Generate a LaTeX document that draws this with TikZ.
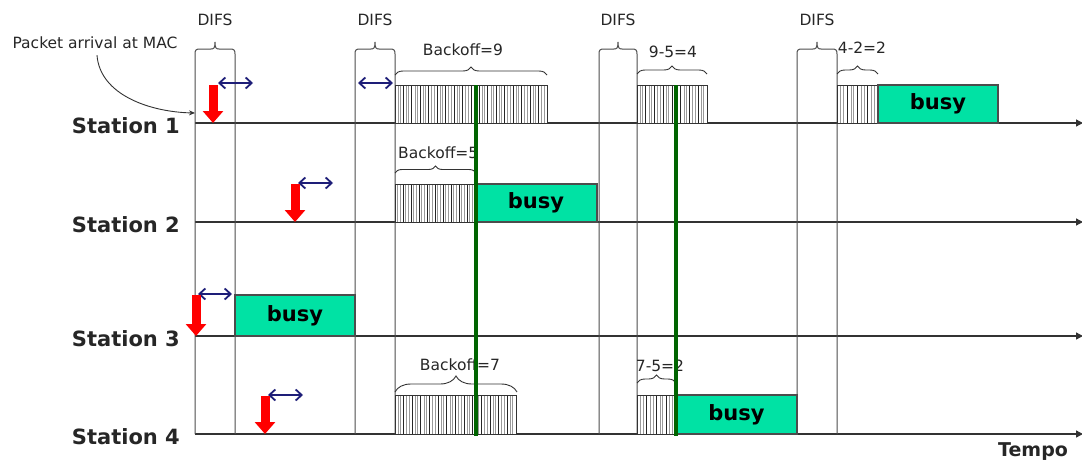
\documentclass[tikz,border=0pt]{standalone}
\usepackage{fontspec}
\setmainfont{DejaVu Sans}
\usetikzlibrary{arrows.meta,decorations.pathreplacing}

\definecolor{busyfill}{RGB}{0,226,164}
\definecolor{slotline}{RGB}{0,100,0}
\definecolor{difsblue}{RGB}{30,30,120}
\definecolor{arrivalred}{RGB}{255,0,0}

% backoff slots: x0, x1, y0, y1, number of slots
\newcommand\backoffslots[5]{%
  \fill[white] (#1,#3) rectangle (#2,#4);
  \pgfmathsetmacro\slotw{(#2-#1)/#5}
  \foreach \k in {1,...,#5}{
    \foreach \f in {0.18,0.32,0.68,0.82}{
      \draw[black!40, line width=0.8] ({#1+(\k-1+\f)*\slotw},#3) -- ({#1+(\k-1+\f)*\slotw},#4);
    }
    \draw[black!85, line width=1] ({#1+(\k-1)*\slotw},#3) -- ({#1+(\k-1)*\slotw},#4);
    \draw[black!85, line width=1] ({#1+(\k-0.5)*\slotw},#3) -- ({#1+(\k-0.5)*\slotw},#4);
  }
  \draw[black!80, line width=1] (#1,#3) rectangle (#2,#4);
}

% flat DIFS bracket over the interval [#1,#2], joined to the vertical guides
\newcommand\difsbracket[2]{%
  \pgfmathsetmacro\xm{(#1+#2)/2}
  \draw[grid] (#1,434) -- (#1,54) .. controls (#1,50) and (#1+1,49) .. (#1+5,49)
    -- (\xm-4,49) .. controls (\xm-1,49) and (\xm,48) .. (\xm,42)
    .. controls (\xm,48) and (\xm+1,49) .. (\xm+4,49)
    -- (#2-5,49) .. controls (#2-1,49) and (#2,50) .. (#2,54) -- (#2,434);
}

\begin{document}
\begin{tikzpicture}[x=1pt,y=-1pt,
  small/.style={font=\fontsize{15.5}{18}\selectfont, text=black!85, inner sep=0pt},
  stlabel/.style={font=\bfseries\fontsize{21}{25}\selectfont, text=black!85, inner sep=0pt},
  busy/.style={draw=black!70, line width=1.2pt, fill=busyfill, inner sep=0pt, outer sep=0pt,
    font=\bfseries\fontsize{21}{25}\selectfont},
  axis/.style={line width=1.3pt, black!80, -{Triangle[length=7pt,width=7pt]}},
  grid/.style={line width=1pt, black!70},
  bracefine/.style={black!80, line width=0.9pt, decorate, decoration={brace, amplitude=#1}},
  difs/.style={difsblue, line width=1.8pt,
    {Straight Barb[length=6pt,width=11pt]}-{Straight Barb[length=6pt,width=11pt]}},
  arrival/.style={arrivalred, line width=9pt, -{Triangle[length=12pt,width=20pt]}},
  slot/.style={slotline, line width=4.5pt}]

\useasboundingbox (0,0) rectangle (1082,463);

% station time lines
\draw[axis] (195,123) -- (1083,123);
\draw[axis] (195,222) -- (1083,222);
\draw[axis] (195,336) -- (1083,336);
\draw[axis] (195,434) -- (1083,434);

\node[stlabel, anchor=base east] (st1) at (180,133) {Station 1};
\node[stlabel, anchor=base east] (st2) at (180,232) {Station 2};
\node[stlabel, anchor=base east] (st3) at (180,346) {Station 3};
\node[stlabel, anchor=base east] (st4) at (180,444) {Station 4};
\node[font=\bfseries\fontsize{19}{23}\selectfont, text=black!85, inner sep=0pt] (tempo) at (1033,452) {Tempo};

% DIFS intervals
\difsbracket{195}{235}
\difsbracket{355}{395}
\difsbracket{599}{637}
\difsbracket{797}{837}
\node[small] (difs1) at (215,20) {DIFS};
\node[small] (difs2) at (375,20) {DIFS};
\node[small] (difs3) at (618,20) {DIFS};
\node[small] (difs4) at (817,20) {DIFS};

% packet arrival
\node[small] (pkt) at (95,43) {Packet arrival at MAC};
\coordinate (arr) at (195,113);
\draw[black!80, line width=0.9pt, -{Stealth[length=6pt,width=5pt]}]
  ([xshift=2pt,yshift=-6pt]pkt.south) .. controls (100,95) and (150,112) .. (arr);

% backoff slots
\backoffslots{395}{547}{85}{123}{9}
\backoffslots{637}{707}{85}{123}{4}
\backoffslots{837}{878}{85}{123}{2}
\backoffslots{395}{475}{184}{222}{5}
\backoffslots{395}{516}{395}{434}{7}
\backoffslots{637}{676}{395}{434}{2}

\draw[bracefine=8pt] (395,75) -- (547,75);
\node[small] (bo9) at (463,50) {Backoff=9};
\draw[bracefine=8pt] (637,74) -- (707,74);
\node[small] (bo4) at (673,52) {9-5=4};
\draw[bracefine=8pt] (837,74) -- (878,74);
\node[small] (bo2) at (862,48) {4-2=2};
\draw[bracefine=7pt] (395,173) -- (476,173);
\node[small, anchor=west] (bo5) at (398,153) {Backoff=5};
\draw[bracefine=16pt] (395,392) -- (517,392);
\node[small] (bo7) at (460,365) {Backoff=7};
\draw[bracefine=8pt] (637,383) -- (676,383);
\node[small] (bo72) at (660,366) {7-5=2};

% busy medium
\node[busy, minimum width=120pt, minimum height=38pt] (busy1) at (938,104) {busy};
\node[busy, minimum width=122pt, minimum height=38pt] (busy2) at (536,203) {busy};
\node[busy, minimum width=120pt, minimum height=41pt] (busy3) at (295,315.5) {busy};
\node[busy, minimum width=121pt, minimum height=39pt] (busy4) at (736.5,414.5) {busy};

% DIFS waits
\draw[difs] (218,83) -- (253,83);
\draw[difs] (358,83) -- (393,83);
\draw[difs] (298,183) -- (333,183);
\draw[difs] (198,294) -- (232,294);
\draw[difs] (268,395) -- (303,395);

% packet arrivals
\draw[arrival] (213,85) -- (213,123);
\draw[arrival] (295,184) -- (295,222);
\draw[arrival] (196,295) -- (196,336);
\draw[arrival] (265,396) -- (265,434);

% slot boundaries where the backoff counters freeze
\draw[slot] (476,85) -- (476,436);
\draw[slot] (676,85) -- (676,436);

\end{tikzpicture}
\end{document}
